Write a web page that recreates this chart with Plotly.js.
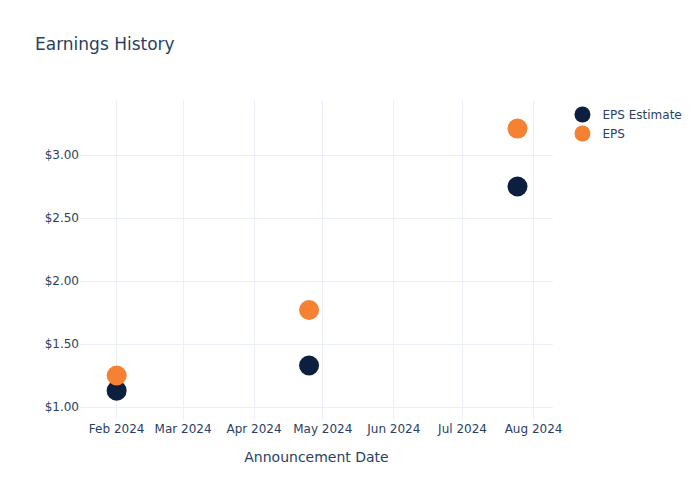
<!DOCTYPE html>
<html>
<head>
<meta charset="utf-8">
<script src="https://cdn.plot.ly/plotly-3.0.1.min.js"></script>
<style>
    body { margin: 0; }
    #plot { width: 700px; height: 500px; }
</style>
</head>
<body>
<div id="plot"></div>
<script>
// announcement dates and earnings values
let dates = ["2024-02-01", "2024-04-25", "2024-07-25"];
let epsEstimate = [1.13, 1.33, 2.75];
let epsActual = [1.25, 1.77, 3.21];

// trace for the estimates
let trace1 = {
    x: dates,
    y: epsEstimate,
    name: "EPS Estimate",
    mode: "markers",
    type: "scatter",
    marker: { color: "#0d1f3f", size: 20 }
};

// trace for the actual eps
let trace2 = {
    x: dates,
    y: epsActual,
    name: "EPS",
    mode: "markers",
    type: "scatter",
    marker: { color: "#f58233", size: 20 }
};

let layout = {
    width: 700,
    height: 500,
    font: { family: "DejaVu Sans, sans-serif", color: "#2a3f5f", size: 12 },
    title: { text: "Earnings History", x: 0.05, font: { size: 17 } },
    paper_bgcolor: "white",
    plot_bgcolor: "white",
    margin: { l: 80, r: 147, t: 100, b: 80 },
    xaxis: {
        title: { text: "Announcement Date", font: { size: 14 }, standoff: 17 },
        type: "date",
        range: ["2024-01-16", "2024-08-09 12:00"],
        dtick: "M1",
        tickformat: "%b %Y",
        gridcolor: "#ebf0f8",
        ticks: "",
        zeroline: false
    },
    yaxis: {
        range: [0.897, 3.437],
        dtick: 0.5,
        tickformat: "$.2f",
        gridcolor: "#ebf0f8",
        zeroline: false
    },
    legend: { x: 1.02, y: 1, font: { size: 12 } },
    showlegend: true
};

// draw the chart
Plotly.newPlot("plot", [trace1, trace2], layout, { displayModeBar: false });
</script>
</body>
</html>
